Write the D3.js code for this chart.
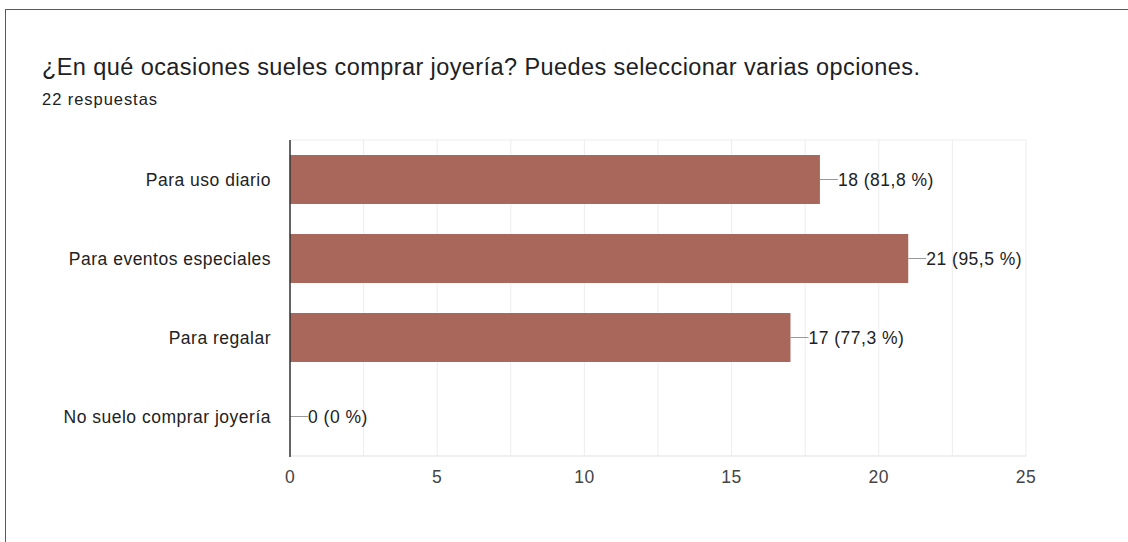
<!DOCTYPE html>
<html lang="es">
<head>
  <meta charset="UTF-8">
  <title>¿En qué ocasiones sueles comprar joyería?</title>
  <script src="https://d3js.org/d3.v7.min.js"></script>
  <style>
    body
    {
      margin: 0;
      padding: 0;
      background-color: #fff;
      overflow: hidden;
    }

    .card
    {
      position: absolute;
      left: 5px;
      top: 9px;
      width: 1140px;
      height: 560px;
      border: 1.5px solid #5a5a5a;
      box-sizing: border-box;
    }

    svg
    {
      position: absolute;
      left: 0;
      top: 0;
    }
  </style>
</head>
<body>
  <div class="card"></div>
  <svg width="1128" height="542"></svg>
  <script>
    const titleText = "¿En qué ocasiones sueles comprar joyería? Puedes seleccionar varias opciones.";
    const subtitleText = "22 respuestas";
    const categories = ["Para uso diario", "Para eventos especiales", "Para regalar", "No suelo comprar joyería"];
    const counts = [18, 21, 17, 0];
    const labels = ["18 (81,8 %)", "21 (95,5 %)", "17 (77,3 %)", "0 (0 %)"];
    const xTicks = [0, 5, 10, 15, 20, 25];
    const gridValues = d3.range(0, 25.1, 2.5);

    const data = categories.map((c, i) => ({ cat: c, value: counts[i], label: labels[i] }));

    const plotLeft = 290, plotRight = 1026, plotTop = 140, plotBottom = 456;
    const svg = d3.select("svg");
    const font = "'Liberation Sans', Arial, sans-serif";
    const fs = 17.5, ls = 0.5;

    // title + subtitle
    svg.append("text")
      .attr("x", 42)
      .attr("y", 75)
      .attr("font-family", font)
      .attr("font-size", 23.5)
      .attr("fill", "#202124")
      .attr("textLength", 878)
      .attr("lengthAdjust", "spacing")
      .text(titleText);

    svg.append("text")
      .attr("x", 42)
      .attr("y", 105)
      .attr("font-family", font)
      .attr("font-size", 16.5)
      .attr("fill", "#202124")
      .attr("textLength", 115)
      .attr("lengthAdjust", "spacing")
      .text(subtitleText);

    const x = d3.scaleLinear().domain([0, 25]).range([plotLeft, plotRight]);
    const y = d3.scaleBand().domain(categories).range([plotTop, plotBottom]).paddingInner(0.38).paddingOuter(0.19);

    // grid
    svg.append("g")
      .selectAll("line")
      .data(gridValues)
      .enter()
      .append("line")
      .attr("x1", d => x(d))
      .attr("x2", d => x(d))
      .attr("y1", plotTop)
      .attr("y2", plotBottom)
      .attr("stroke", "#ededed")
      .attr("stroke-width", 1);

    svg.append("line")
      .attr("x1", plotLeft).attr("x2", plotRight)
      .attr("y1", plotTop).attr("y2", plotTop)
      .attr("stroke", "#ededed");
    svg.append("line")
      .attr("x1", plotLeft).attr("x2", plotRight)
      .attr("y1", plotBottom).attr("y2", plotBottom)
      .attr("stroke", "#ebebeb").attr("stroke-width", 1.5);

    // bars
    svg.append("g")
      .selectAll("rect")
      .data(data)
      .enter()
      .append("rect")
      .attr("x", x(0))
      .attr("y", d => y(d.cat))
      .attr("width", d => x(d.value) - x(0))
      .attr("height", y.bandwidth())
      .attr("fill", "#a9675c");

    // connectors + value labels
    const lab = svg.append("g");
    lab.selectAll("line")
      .data(data)
      .enter()
      .append("line")
      .attr("x1", d => x(d.value))
      .attr("x2", d => x(d.value) + 18)
      .attr("y1", d => y(d.cat) + y.bandwidth() / 2)
      .attr("y2", d => y(d.cat) + y.bandwidth() / 2)
      .attr("stroke", "#999")
      .attr("stroke-width", 1);

    lab.selectAll("text")
      .data(data)
      .enter()
      .append("text")
      .attr("x", d => x(d.value) + 18)
      .attr("y", d => y(d.cat) + y.bandwidth() / 2)
      .attr("dy", "0.36em")
      .attr("font-family", font)
      .attr("font-size", fs)
      .attr("letter-spacing", ls)
      .attr("fill", "#222")
      .text(d => d.label);

    // y axis line
    svg.append("line")
      .attr("x1", plotLeft).attr("x2", plotLeft)
      .attr("y1", plotTop).attr("y2", plotBottom + 1)
      .attr("stroke", "#333")
      .attr("stroke-width", 1.5);

    // category labels
    svg.append("g")
      .selectAll("text")
      .data(categories)
      .enter()
      .append("text")
      .attr("x", plotLeft - 19)
      .attr("y", d => y(d) + y.bandwidth() / 2)
      .attr("dy", "0.36em")
      .attr("text-anchor", "end")
      .attr("font-family", font)
      .attr("font-size", fs)
      .attr("letter-spacing", ls)
      .attr("fill", "#222")
      .text(d => d);

    // x tick labels
    svg.append("g")
      .selectAll("text")
      .data(xTicks)
      .enter()
      .append("text")
      .attr("x", d => x(d))
      .attr("y", 477)
      .attr("dy", "0.36em")
      .attr("text-anchor", "middle")
      .attr("font-family", font)
      .attr("font-size", fs)
      .attr("letter-spacing", ls)
      .attr("fill", "#444")
      .text(d => d);
  </script>
</body>
</html>
